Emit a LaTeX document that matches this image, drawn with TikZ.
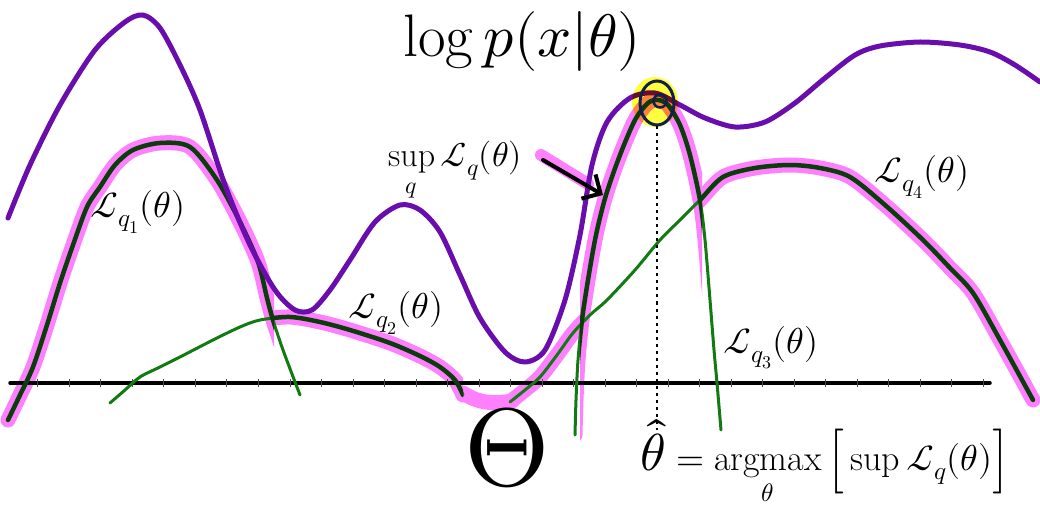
\documentclass[tikz,border=0pt]{standalone}
\usepackage{amsmath}
\usepackage{unicode-math}
\usetikzlibrary{arrows.meta,shapes.geometric}
\definecolor{purp}{HTML}{6A0DAD}
\definecolor{pinkh}{HTML}{FF80FF}
\definecolor{dgreen}{HTML}{0B3D0B}
\definecolor{lgreen}{HTML}{127A12}
\definecolor{navy}{HTML}{0F1F4F}
\definecolor{hiyellow}{HTML}{FFFF40}
\tikzset{
  logp/.style={draw=purp, line width=5, line cap=round, line join=round},
  band/.style={draw=pinkh, line width=15, line cap=round, line join=round},
  lcurve/.style={draw=lgreen, line width=3, line cap=round},
  envcurve/.style={draw=dgreen, line width=4.5, line cap=round},
  lab/.style={inner sep=0pt, font=\fontsize{36}{40}\selectfont},
}
\begin{document}
\begin{tikzpicture}[x=1pt,y=-1pt]
\useasboundingbox (0,0) rectangle (1040,510);
\fill[white] (0,0) rectangle (1040,510);

% curve definitions
\path[save path=\pLone] plot[smooth] coordinates {(8,420) (20,395) (33,367) (47,325) (60,283) (73,245) (87,207) (100,187) (115,165) (133,150) (160,143) (190,147) (217,180) (240,222) (258,262) (267,298) (273,320) (283,350) (300,395)};
\path[save path=\pLtwo] plot[smooth] coordinates {(110,403) (125,390) (140,377) (160,367) (180,357) (213,340) (240,327) (260,320) (290,317) (320,322) (350,330) (390,343) (420,356) (440,367) (455,380) (463,395)};
\path[save path=\pLthree] plot[smooth] coordinates {(575,435) (576,400) (578,360) (582,320) (588,280) (596,235) (606,195) (620,155) (635,120) (648,103) (658,100) (668,105) (680,125) (690,155) (700,200) (705,240) (710,300) (714,350) (717,383) (721,430)};
\path[save path=\pLfour] plot[smooth] coordinates {(510,402) (525,390) (540,377) (557,355) (573,333) (590,315) (607,300) (635,270) (660,240) (680,220) (700,200) (723,177) (755,168) (790,165) (820,168) (850,177) (885,205) (923,240) (950,268) (973,293) (1000,340) (1033,400)};

% pink envelope (sup_q L_q)
\begin{scope}
  \clip (-50,-50) rectangle (274,600);
  \draw[band, use path=\pLone];
\end{scope}
\begin{scope}
  \clip (272,-50) rectangle (463,600);
  \draw[band, use path=\pLtwo];
\end{scope}
\draw[band] (463,393) .. controls (480,404) and (495,404) .. (512,401);
\begin{scope}
  \clip (508,-50) rectangle (583,600);
  \draw[band, use path=\pLfour];
\end{scope}
\begin{scope}
  \clip (580,-50) rectangle (702,600);
  \draw[band, use path=\pLthree];
\end{scope}
\begin{scope}
  \clip (699,-50) rectangle (1100,600);
  \draw[band, use path=\pLfour];
\end{scope}
% pink highlight behind arrow
\draw[pinkh, line width=12, line cap=round] (541,155) -- (588,184);

% axis with ticks
\draw[black, line width=3.5, line cap=round] (10,383) -- (990,383);
\foreach \t in {37,69,100,132,163,195,226,258,290,321,353,384,416,447,479,510,542,573,605,636,668,699,731,762,794,825,857,888,920,951,983}
  \draw[black!70, line width=1] (\t,379) -- (\t,387);

% L_q curves (light) and envelope (dark)
\draw[lcurve, use path=\pLone];
\draw[lcurve, use path=\pLtwo];
\draw[lcurve, use path=\pLthree];
\draw[lcurve, use path=\pLfour];
\begin{scope}
  \clip (-50,-50) rectangle (274,600);
  \draw[envcurve, use path=\pLone];
\end{scope}
\begin{scope}
  \clip (272,-50) rectangle (463,600);
  \draw[envcurve, use path=\pLtwo];
\end{scope}
\begin{scope}
  \clip (580,-50) rectangle (702,600);
  \draw[envcurve, use path=\pLthree];
\end{scope}
\begin{scope}
  \clip (699,-50) rectangle (1100,600);
  \draw[envcurve, use path=\pLfour];
\end{scope}

% log p(x|theta)
\draw[logp] plot[smooth] coordinates {(8,218) (30,165) (60,105) (95,50) (125,22) (143,15) (160,28) (180,65) (200,110) (225,185) (250,245) (275,290) (295,310) (312,310) (330,290) (350,260) (375,222) (400,205) (420,210) (440,232) (460,275) (480,318) (505,352) (525,362) (545,350) (565,300) (580,235) (592,165) (607,122) (630,98) (655,93) (680,105) (705,118) (735,127) (765,122) (795,103) (825,78) (855,55) (880,46) (920,42) (960,45) (990,52) (1015,65) (1040,82)};

% highlighted maximum
\begin{scope}[blend mode=multiply]
  \fill[hiyellow] (655,102) ellipse [x radius=23, y radius=25];
\end{scope}
\node[draw=navy, line width=3, ellipse, minimum width=34, minimum height=44, inner sep=0pt] (maxpt) at (657,103) {};
\node[draw=navy, line width=2.5, circle, minimum size=13, inner sep=0pt] (maxo) at (660,101) {};
\coordinate (dropend) at (657,430);
\draw[black, line width=2, dash pattern=on 3pt off 4pt] (maxpt.south) -- (dropend);

% labels
\node[inner sep=0pt, font=\fontsize{60}{70}\selectfont] (title) at (522,42) {$\log p(x|\theta)$};
\node[lab] (lq1) at (138,212) {$\mathcal{L}_{q_1}(\theta)$};
\node[lab] (lq2) at (396,313) {$\mathcal{L}_{q_2}(\theta)$};
\node[lab] (lq3) at (771,348) {$\mathcal{L}_{q_3}(\theta)$};
\node[lab] (lq4) at (922,177) {$\mathcal{L}_{q_4}(\theta)$};
\node[lab, font=\fontsize{34}{40}\selectfont] (supl) at (455,172) {$\sup\limits_q \mathcal{L}_q(\theta)$};
\node[inner sep=0pt, font=\fontsize{110}{120}\selectfont] (bigtheta) at (507,448) {$\Theta$};
\node[lab, font=\fontsize{36}{40}\selectfont] (argmax) at (825,463) {$\displaystyle \hbox{\fontsize{52}{52}\selectfont$\hat{\theta}$} = \mathop{\mathrm{argmax}}\limits_{\theta}\Big[\sup \mathcal{L}_q(\theta)\Big]$};

% arrow
\coordinate (arrs) at (543,160);
\coordinate (arrt) at (603,195);
\draw[black, line width=4, line cap=round, -{Straight Barb[length=14pt,width=28pt]}] (arrs) -- (arrt);
\end{tikzpicture}
\end{document}
